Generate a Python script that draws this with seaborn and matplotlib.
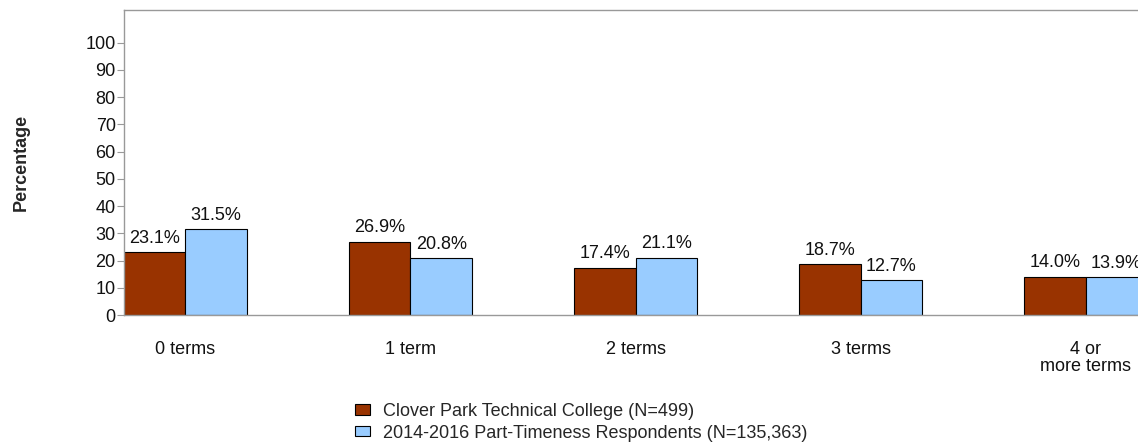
import matplotlib
matplotlib.use("Agg")
import matplotlib.pyplot as plt
import seaborn as sns
import pandas as pd

categories = ["0 terms", "1 term", "2 terms", "3 terms", "4 or\nmore terms"]
series_names = ["Clover Park Technical College (N=499)",
                "2014-2016 Part-Timeness Respondents (N=135,363)"]
college = [23.1, 26.9, 17.4, 18.7, 14.0]
state = [31.5, 20.8, 21.1, 12.7, 13.9]
yticks = [0, 10, 20, 30, 40, 50, 60, 70, 80, 90, 100]
colors = ["#993300", "#99CCFF"]

sns.set_theme(style="white")
plt.rcParams['font.family'] = ['Liberation Sans', 'DejaVu Sans']

df = pd.DataFrame({
    "cat": categories * 2,
    "val": college + state,
    "series": [series_names[0]] * 5 + [series_names[1]] * 5,
})

FS = 13
W, H = 1138, 447
fig = plt.figure(figsize=(W / 100, H / 100), dpi=100)
ax = fig.add_axes([124 / W, 1 - 315 / H, (1147 - 124) / W, (315 - 10) / H])

sns.barplot(data=df, x="cat", y="val", hue="series", palette=colors,
            width=0.546, edgecolor="black", linewidth=0.8, ax=ax,
            legend=True, saturation=1)

for cont in ax.containers:
    ax.bar_label(cont, labels=[f"{v:.1f}%" for v in cont.datavalues],
                 padding=4, fontsize=FS, color="#111111")

ax.set_xlim(-0.273, 4.273)
ax.set_ylim(0, 112)
ax.set_yticks(yticks)
ax.set_yticklabels([str(t) for t in yticks], fontsize=FS, color="#111111")
ax.tick_params(axis="y", length=5, width=0.8, color="#999999", pad=1, left=True)
ax.tick_params(axis="x", length=0, pad=19, labelsize=FS, labelcolor="#111111")
for lbl in ax.get_xticklabels():
    lbl.set_linespacing(1.0)
ax.set_xlabel("")
ax.set_ylabel("Percentage", fontsize=FS, fontweight="bold", labelpad=40)
for s in ["left", "top", "bottom"]:
    ax.spines[s].set_color("#999999")
    ax.spines[s].set_linewidth(1)
ax.spines["right"].set_visible(False)

handles, labels = ax.get_legend_handles_labels()
ax.get_legend().remove()
fig.legend(handles, labels, loc="upper left", bbox_to_anchor=(355 / W, 1 - 403 / H),
           frameon=False, fontsize=FS, handlelength=0.85, handleheight=0.5,
           handletextpad=0.7, labelspacing=0.25, borderaxespad=0, borderpad=0)

fig.savefig("out.png", dpi=100)
